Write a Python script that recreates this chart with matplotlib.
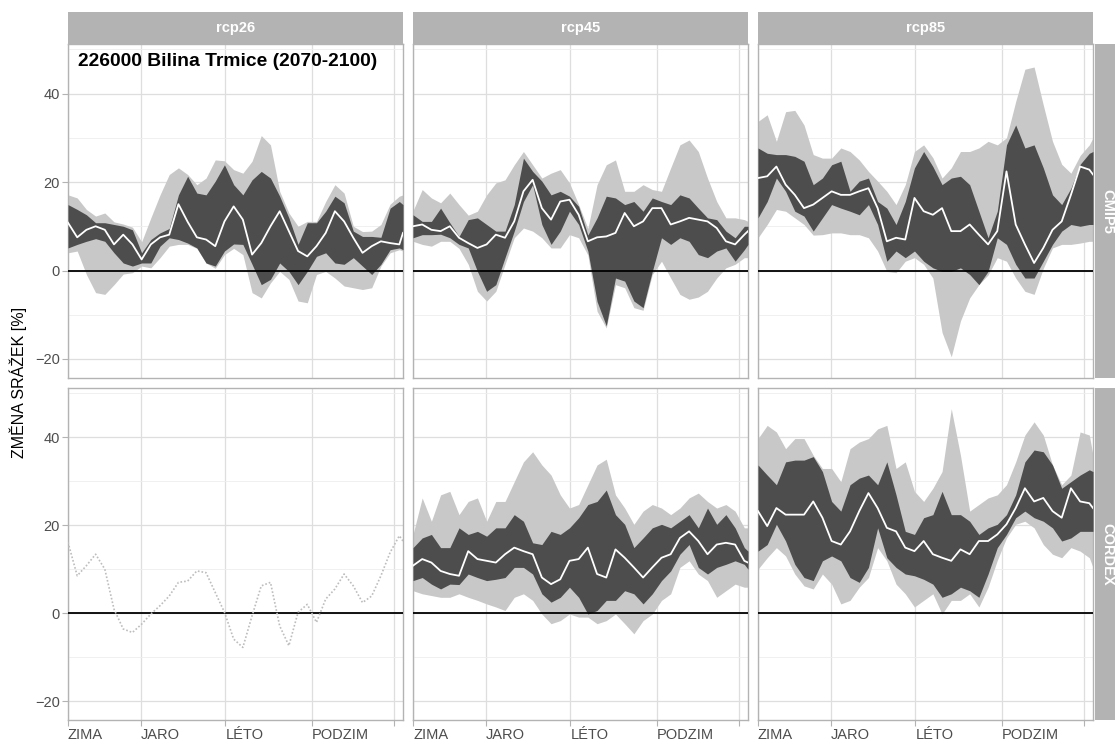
import matplotlib
matplotlib.use("Agg")
import matplotlib.pyplot as plt

plt.rcParams['font.family'] = ['Liberation Sans', 'DejaVu Sans']

# ---------------- data ----------------
DAYS = [1, 11, 21, 31, 41, 51, 61, 71, 81, 91, 101, 111, 121, 131, 141, 151, 161, 171, 181,
        191, 201, 211, 221, 231, 241, 251, 261, 271, 281, 291, 301, 311, 321, 331, 341, 351, 361, 365]

SEASON_TICKS = [1, 80, 172, 266, 355]
SEASON_LABELS = ['ZIMA', 'JARO', 'LÉTO', 'PODZIM', '']
SCENARIOS = ['rcp26', 'rcp45', 'rcp85']
ENSEMBLES = ['CMIP5', 'CORDEX']
TITLE = '226000 Bilina Trmice (2070-2100)'
YLABEL = 'ZMĚNA SRÁŽEK [%]'

# CMIP5 rcp26
c26_min = [4, 4.4, -0.9, -5, -5.4, -3.2, -0.8, -0.5, 1, 0.6, 2.9, 5.5, 5.9, 5.9, 5, 1.7, 0.5, 3.6, 5,
           3.6, -5, -6.2, -2.8, -0.2, -2, -6.9, -7.3, -0.9, -0.2, -1.7, -3.5, -3.9, -4.3, -3.9, 1, 4, 4.7, 4.4]
c26_q25 = [5.1, 5.9, 6.6, 7.2, 6.6, 4, 1.7, 1, 1.7, 1.7, 5.5, 7.4, 7, 6.2, 5.1, 1.7, 1, 4.4, 6,
           5.9, 1.4, -3.2, -2, 1.7, -0.2, -3.2, -0.2, 3.2, 4, 1.7, 1.4, 2.9, 1, -0.9, 1.4, 4.7, 5.1, 4.7]
c26_med = [10.8, 7.5, 9.2, 10, 9.2, 5.9, 8.1, 5.9, 2.5, 5.9, 7.5, 8.1, 15, 11, 7.5, 7, 5.5, 11.1, 14.5,
           11.5, 3.6, 6.2, 10, 13.4, 8.9, 4.4, 3.2, 5.5, 8.5, 13.4, 11.1, 7.4, 4, 5.5, 6.6, 6.2, 5.9, 8.5]
c26_q75 = [14.9, 13.8, 12.6, 10.8, 10.8, 10.4, 10, 9.2, 4, 7, 8.5, 9.5, 17.1, 21.3, 17.5, 17.1, 20.2, 23.9, 19.4,
           17.1, 20.5, 22.4, 20.9, 16.8, 11.9, 5.9, 10.8, 10.8, 13.4, 16.8, 15.3, 8.9, 7.7, 7.7, 7.5, 14.1, 15.6, 14.9]
c26_max = [17.1, 16.4, 13.8, 12.3, 13, 11, 10.5, 9.8, 6.5, 11.9, 17.1, 21.7, 23.2, 21.7, 19.4, 20.9, 25, 24.8, 22.8,
           22, 24.7, 30.5, 28.4, 17.9, 13, 10, 11.1, 11.1, 15.6, 19.4, 17.5, 10, 8.8, 8.9, 10.4, 15, 16.8, 17.1]

# CMIP5 rcp45
c45_min = [6.6, 5.9, 5.5, 6.6, 6.6, 5, 1.4, -4.7, -6.9, -4.7, 1.4, 7.4, 9.6, 8.9, 7.4, 5.1, 5.1, 8.1, 7.4,
           3.5, -9.2, -13, -3.2, -3.9, -8.4, -9, -0.9, 2.1, -1.7, -5.4, -6.5, -6, -4.7, -1.7, 0.6, 1.4, 2.9, 2.9]
c45_q25 = [7.4, 8.1, 8.1, 8.2, 7.4, 5.9, 5.1, -0.2, -4.7, -3.2, 2.9, 8.9, 15.6, 19.4, 10.4, 5.9, 8.9, 13.4, 10.4,
           4.4, -7, -12.5, -1.7, -2.4, -6.9, -8.4, -0.2, 7.4, 5.9, 7.4, 6.6, 3.6, 2.9, 4.4, 5.1, 2.1, 4.7, 5.9]
c45_med = [10, 10.4, 9.2, 8.9, 10, 7.4, 6.2, 5.1, 5.9, 8.1, 7.4, 11.1, 17.9, 20.5, 14.1, 11.5, 15.6, 16, 12.6,
           6.6, 7.5, 7.7, 8.5, 13, 10, 11.1, 14.1, 14.1, 10.4, 11.1, 11.9, 11.5, 11.1, 9.6, 6.6, 5.9, 8.1, 8.9]
c45_q75 = [12.6, 11.1, 11.1, 14.1, 10.8, 7.7, 11.5, 11.9, 10.4, 8.9, 8.9, 14.9, 25.4, 22.4, 20.2, 17.1, 17.9, 16.8, 14.5,
           8, 11.9, 16.8, 16.4, 14.9, 15.6, 13.4, 16.4, 15.6, 14.9, 17.1, 16.4, 14.1, 11.9, 11.5, 8.9, 7.4, 10, 10]
c45_max = [13.5, 18.3, 16.4, 15.3, 17.5, 14.9, 12.5, 13.4, 17.1, 19.8, 20.5, 23.9, 26.9, 23.9, 20.9, 22, 22.8, 19.8, 14.9,
           9.5, 19.4, 23.9, 25, 17.9, 17.9, 19.4, 18.3, 17.9, 23.2, 28.4, 29.5, 26.9, 20.9, 15.6, 11.9, 11.9, 11.5, 11.1]

# CMIP5 rcp85
c85_min = [7.4, 10.4, 13.8, 13.4, 11.9, 10.4, 8, 8.1, 8.5, 8.5, 8.1, 8.1, 7.4, 4.4, -0.2, -0.5, 2.1, 2.9, 1.4,
           -1.7, -14, -19.5, -11.4, -6.2, -3.2, -1, 2.9, 2.1, -1.7, -4.7, -5.4, 0.5, 5.1, 5.9, 5.9, 6.2, 6.6, 6.6]
c85_q25 = [11.9, 15.6, 20.9, 17.9, 13.4, 12.3, 8.9, 11.9, 14.9, 14.1, 13.4, 12.6, 14.9, 10.4, 2.1, 4.4, 2.9, 4.4, 2.1,
           0.6, -0.2, -0.2, 0.6, -0.9, -3.2, -0.2, 7.4, 5.9, 1.4, -1.7, -1.7, 2.1, 5.9, 8.9, 10.4, 10, 10.4, 10.4]
c85_med = [20.9, 21.3, 23.5, 19.4, 17.1, 14.1, 14.9, 16.4, 17.9, 17.1, 17.1, 17.9, 18.6, 14.1, 6.6, 7.4, 7, 16.4, 13.4,
           12.6, 14.1, 8.9, 8.9, 10.4, 8.1, 5.9, 8.9, 22.4, 10.4, 5.9, 1.7, 5.1, 9.2, 11.1, 17.1, 23.5, 22.8, 21.7]
c85_q75 = [27.7, 26.5, 26.2, 26.2, 25.8, 24.7, 19.4, 20.9, 23.9, 24.7, 17.9, 20.2, 20.9, 15.6, 14.1, 10.4, 15.6, 23.2, 26.9,
           23.5, 19.4, 20.9, 21.3, 19.4, 13.4, 7.4, 13.4, 28.4, 32.9, 27.7, 28.4, 23.2, 17.1, 14.9, 18.6, 24, 26.5, 26.9]
c85_max = [33.7, 35.2, 29.2, 35.9, 36.2, 32.9, 26.2, 25.4, 25.4, 27.7, 26.9, 25, 22.4, 20.2, 17.9, 14.9, 19.4, 26.9, 28.4,
           25.5, 20.9, 23.2, 26.9, 26.9, 27.7, 29.2, 28.4, 30, 38.2, 45.5, 46, 37.4, 29.2, 24, 22, 26, 28.4, 30]

# CORDEX rcp26 (single dotted series)
d26_line = [16.1, 8.5, 10.8, 13.4, 10, 0.9, -3.6, -4.4, -2.5, -0.2, 1.7, 3.9, 7, 7.3, 9.6, 9.2, 4.7, 0.2, -5.9,
            -7.8, -0.6, 6.2, 7, -2.9, -7.4, 0.2, 2, -2.1, 3.2, 5.5, 8.9, 6.2, 2.4, 3.9, 8.5, 13.8, 17.6, 16.4]

# CORDEX rcp45
d45_min = [5.1, 4.4, 4, 3.6, 3.6, 4.4, 3.6, 2.9, 2.1, 1.4, 0.6, 3.6, 4.4, 2.9, -0.2, -2.4, -1.7, -0.2, -0.9,
           -0.9, -2.4, -1.7, -0.2, -2.4, -4.7, -1.7, -0.2, 2.9, 4.4, 10.4, 11.9, 8.9, 7.4, 3.6, 5.1, 6.6, 5.9, 5.9]
d45_q25 = [7.4, 8.1, 6.6, 5.5, 6.6, 6.5, 8.9, 8.1, 7.4, 7.7, 8.1, 10.4, 10.4, 8.9, 4.4, 2.5, 3.6, 5.9, 3.6,
           -0.2, 0.6, 2.9, 2.9, 5.1, 4.4, 2.1, 4.4, 7.4, 9.6, 13.4, 15.6, 10.4, 8.9, 10.4, 11.1, 11.9, 11.1, 10]
d45_med = [10.8, 12.3, 11.5, 9.6, 8.9, 8.5, 14.1, 12.3, 11.9, 11.5, 13.4, 14.9, 14.1, 13.4, 8.1, 6.6, 7.7, 11.9, 12.3,
           14.9, 8.9, 8.1, 14.5, 12.6, 10.4, 8.1, 10.4, 12.6, 13.4, 17.1, 18.6, 16.4, 13.4, 15.6, 16, 15.6, 11.9, 11.5]
d45_q75 = [14.9, 17.1, 17.9, 14.9, 14.9, 19.4, 17.9, 18.6, 17.5, 19.4, 19.4, 22.4, 20.9, 16, 15.6, 18.6, 17.9, 19.4, 21.7,
           24.7, 25.4, 28, 22.4, 20.2, 14.9, 17.1, 19.4, 20.2, 19.4, 20.9, 22.4, 19.4, 23.9, 20.2, 22.4, 19.4, 14.9, 14.1]
d45_max = [17.9, 26.2, 20.9, 26.9, 27.7, 22.4, 25.4, 26.2, 20.9, 25.4, 25.4, 29.9, 34.4, 36.7, 33.7, 31.4, 26.9, 23.9, 24.7,
           29.2, 33.7, 35, 26.9, 23.9, 20.2, 23.2, 24.7, 23.9, 22.4, 23.9, 26.2, 27.3, 25.4, 23.9, 24.7, 23.2, 19.4, 19.4]

# CORDEX rcp85
d85_min = [10, 12.6, 14.9, 13, 8.9, 6.2, 5.5, 8.9, 6.6, 2.1, 2.9, 5.9, 8.1, 14.9, 11.9, 6.6, 4.4, 1.4, 2.9,
           4.4, -0.2, 2.9, 2.9, 4.4, 1.4, 5.9, 12, 17.1, 20.2, 20.9, 19.4, 15.6, 13.4, 12.6, 14.9, 14.1, 12.6, 10.4]
d85_q25 = [14.1, 15.6, 20.2, 16.4, 11.1, 8.1, 7.4, 11.9, 13, 11.9, 8.1, 7, 10.4, 19.4, 12.6, 10.4, 8.9, 8.5, 7.7,
           6.6, 3.6, 4.4, 5.9, 5.1, 3.6, 8.9, 14.9, 17.9, 21.7, 23.2, 21.7, 20.9, 19.4, 16.4, 17.1, 18.6, 18.6, 18.6]
d85_med = [23.2, 19.8, 23.9, 22.4, 22.4, 22.4, 25.4, 21.7, 16.4, 15.6, 18.6, 23.2, 27.3, 23.9, 19.4, 18.6, 14.9, 14.1, 16.4,
           13.4, 12.6, 11.9, 14.5, 13.4, 16.4, 16.4, 17.9, 20.2, 23.9, 28.4, 25.4, 26.2, 23.2, 21.7, 28.4, 25.4, 25, 23.9]
d85_q75 = [33.7, 31.4, 29.2, 34.4, 34.8, 34.8, 35.6, 32.2, 25.4, 23.2, 29.2, 30.7, 31.4, 29.2, 34.4, 26.9, 18.6, 17.9, 21.7,
           22.4, 27.7, 22.4, 22.4, 20.9, 17.9, 19.4, 20.2, 22.4, 26.9, 34.4, 37.1, 36.7, 33.7, 28.4, 29.9, 31.4, 32.6, 32.2]
d85_max = [39.7, 42.7, 41.2, 37.4, 39.7, 39.7, 35.9, 32.9, 32.9, 29.9, 37.4, 38.9, 39.7, 41.9, 42.7, 32.9, 34.4, 27.7, 25.4,
           28.4, 32.2, 46.5, 35.9, 23.2, 24.7, 26.2, 26.9, 29.2, 34.4, 40.5, 43.5, 40.5, 33.7, 29.2, 31.4, 41.2, 40.5, 35.9]

PANELS = {
    (0, 0): (c26_min, c26_q25, c26_med, c26_q75, c26_max),
    (0, 1): (c45_min, c45_q25, c45_med, c45_q75, c45_max),
    (0, 2): (c85_min, c85_q25, c85_med, c85_q75, c85_max),
    (1, 1): (d45_min, d45_q25, d45_med, d45_q75, d45_max),
    (1, 2): (d85_min, d85_q25, d85_med, d85_q75, d85_max),
}

# ---------------- layout ----------------
W, H = 1115, 744
fig = plt.figure(figsize=(W / 100, H / 100), dpi=100)


def rect(l, t, r, b):
    return [l / W, 1 - b / H, (r - l) / W, (b - t) / H]


COLS = [(68, 403), (413, 748), (758, 1093)]
ROWS = [(44, 378), (388, 720)]
STRIP = '#B3B3B3'
LIGHT = '#C8C8C8'
DARK = '#4D4D4D'

for ri, (t, b) in enumerate(ROWS):
    for ci, (l, r) in enumerate(COLS):
        ax = fig.add_axes(rect(l, t, r, b))
        ax.set_xlim(1, 365)
        ax.set_ylim(-24.3, 51.2)
        ax.set_yticks([-20, 0, 20, 40])
        ax.set_yticks([-10, 10, 30, 50], minor=True)
        ax.set_xticks(SEASON_TICKS)
        ax.set_xticklabels(SEASON_LABELS, ha='left')
        ax.set_axisbelow(True)
        ax.grid(which='major', color='#DEDEDE', lw=0.9)
        ax.grid(which='minor', axis='y', color='#EEEEEE', lw=0.6)
        ax.tick_params(axis='y', which='minor', length=0)
        ax.tick_params(which='major', length=4, color='#B3B3B3', labelcolor='#4D4D4D',
                       labelsize=10.5, pad=2)
        for s in ax.spines.values():
            s.set_color('#B3B3B3')
            s.set_linewidth(1.0)
        if ci > 0:
            ax.tick_params(axis='y', left=False, labelleft=False)
        if ri == 0:
            ax.tick_params(axis='x', bottom=False, labelbottom=False)

        data = PANELS.get((ri, ci))
        if data is not None:
            mn, q25, med, q75, mx = data
            ax.fill_between(DAYS, mn, mx, color=LIGHT, lw=0, zorder=2)
            ax.fill_between(DAYS, q25, q75, color=DARK, lw=0, zorder=3)
            ax.axhline(0, color='black', lw=1.3, zorder=4)
            ax.plot(DAYS, med, color='white', lw=1.3, zorder=5)
        else:
            ax.axhline(0, color='black', lw=1.3, zorder=4)
            ax.plot(DAYS, d26_line, color='#BDBDBD', lw=1.2, ls=(0, (1, 1.2)), zorder=5)

# top strips
for ci, (l, r) in enumerate(COLS):
    sax = fig.add_axes(rect(l, 12, r, 44))
    sax.set_facecolor(STRIP)
    sax.set_xticks([]); sax.set_yticks([])
    for s in sax.spines.values():
        s.set_visible(False)
    sax.text(0.5, 0.5, SCENARIOS[ci], color='white', fontsize=10.5, fontweight='bold',
             ha='center', va='center', transform=sax.transAxes)

# right strips
for ri, (t, b) in enumerate(ROWS):
    sax = fig.add_axes(rect(1095, t, 1127, b))
    sax.set_facecolor(STRIP)
    sax.set_xticks([]); sax.set_yticks([])
    for s in sax.spines.values():
        s.set_visible(False)
    fig.text(1107 / W, 1 - ((t + b) / 2) / H, ENSEMBLES[ri], color='white', fontsize=10.5,
             fontweight='bold', rotation=-90, ha='center', va='center')

fig.text(78 / W, 1 - 62 / H, TITLE, fontsize=13.9, fontweight='bold', color='black',
         ha='left', va='center')
fig.text(18 / W, 1 - 382 / H, YLABEL, fontsize=11.5, rotation=90, ha='center', va='center',
         color='black')

fig.savefig('out.png', dpi=100)
